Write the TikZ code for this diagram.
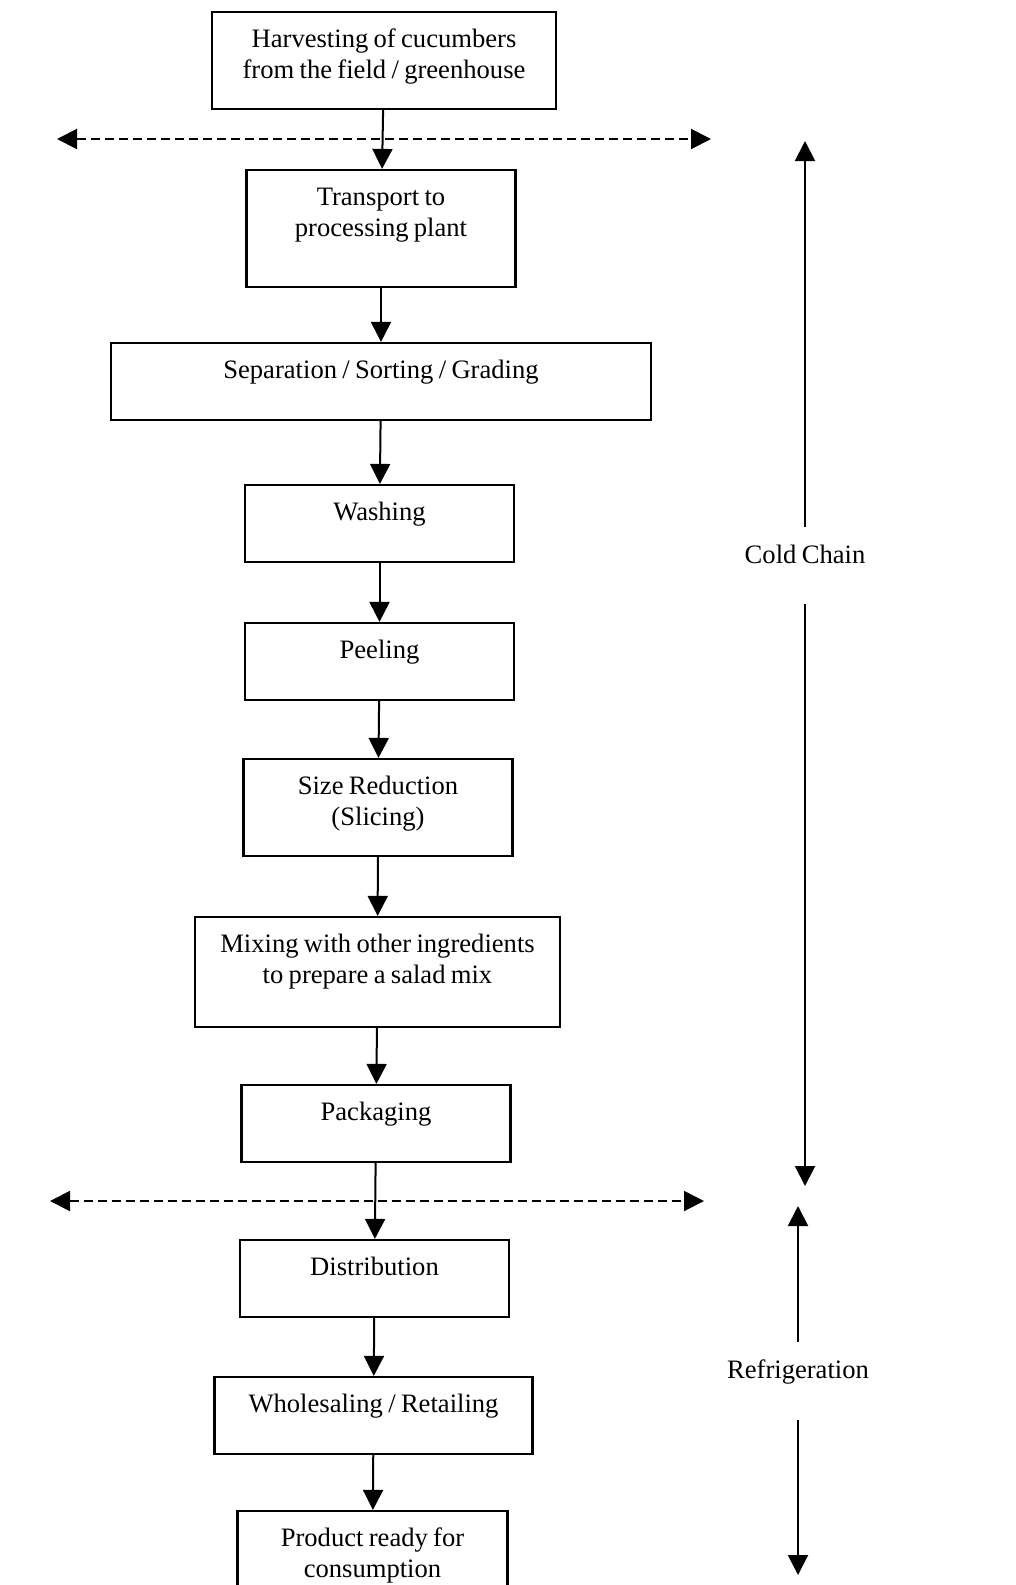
\documentclass[tikz,border=0pt]{standalone}
\usepackage{fontspec}
\setmainfont{Liberation Serif}[WordSpace=0.8]
\usetikzlibrary{arrows.meta}
\tikzset{
  stage/.style={draw, line width=1.1pt, inner sep=0pt, align=flush center,
    text height=17.5pt, text depth=21pt, anchor=base},
  flow/.style={-{Triangle[length=10pt,width=10pt]}, line width=1pt},
  span/.style={{Triangle[length=10pt,width=10pt]}-{Triangle[length=10pt,width=10pt]},
    line width=1pt, dash pattern=on 4.5pt off 2.5pt},
  side/.style={inner sep=0pt, text height=18pt, text depth=20.5pt, anchor=base}
}
\begin{document}
\begin{tikzpicture}[x=0.5pt, y=-0.5pt, font=\fontsize{13.3}{15.6}\selectfont]
  \useasboundingbox (0,0) rectangle (1016,1585);
  \clip (0,0) rectangle (1016,1585);
  % process steps
  \node[stage, text width=172pt, text depth=31pt] (harvest) at (384,47) {Harvesting of cucumbers\\from the field / greenhouse};
  \node[stage, text width=134.5pt, text depth=41pt] (transport) at (381,205) {Transport to\\processing plant};
  \node[stage, text width=270pt] (sort) at (381,378) {Separation / Sorting / Grading};
  \node[stage, text width=134.5pt] (wash) at (379.5,520) {Washing};
  \node[stage, text width=134.5pt] (peel) at (379.5,658) {Peeling};
  \node[stage, text width=134.5pt, text depth=31pt] (slice) at (378,794) {Size Reduction\\(Slicing)};
  \node[stage, text width=182.5pt, text depth=37.5pt] (mix) at (377.5,952) {Mixing with other ingredients\\to prepare a salad mix};
  \node[stage, text width=134.5pt] (pack) at (376,1120) {Packaging};
  \node[stage, text width=134.5pt] (distrib) at (374.5,1275) {Distribution};
  \node[stage, text width=159pt] (retail) at (373.5,1412) {Wholesaling / Retailing};
  \node[stage, text width=135pt, text depth=50pt] (ready) at (372.5,1546) {Product ready for\\consumption};
  \draw[flow] (harvest) -- (transport);
  \draw[flow] (transport) -- (sort);
  \draw[flow] (sort) -- (wash);
  \draw[flow] (wash) -- (peel);
  \draw[flow] (peel) -- (slice);
  \draw[flow] (slice) -- (mix);
  \draw[flow] (mix) -- (pack);
  \draw[flow] (pack) -- (distrib);
  \draw[flow] (distrib) -- (retail);
  \draw[flow] (retail) -- (ready);
  % dashed limits
  \coordinate (startL) at (57,139);
  \coordinate (startR) at (711,139);
  \coordinate (endL) at (50,1201);
  \coordinate (endR) at (704,1201);
  \draw[span] (startL) -- (startR);
  \draw[span] (endL) -- (endR);
  % side ranges
  \node[side] (cold) at (805,563) {Cold Chain};
  \coordinate (coldtop) at (805,141);
  \coordinate (coldbot) at (805,1186);
  \draw[flow] (cold.north) -- (coldtop);
  \draw[flow] (cold.south) -- (coldbot);
  \node[side, text depth=21pt] (fridge) at (798,1378) {Refrigeration};
  \coordinate (fridgetop) at (798,1206);
  \coordinate (fridgebot) at (798,1575);
  \draw[flow] (fridge.north) -- (fridgetop);
  \draw[flow] (fridge.south) -- (fridgebot);
\end{tikzpicture}
\end{document}
